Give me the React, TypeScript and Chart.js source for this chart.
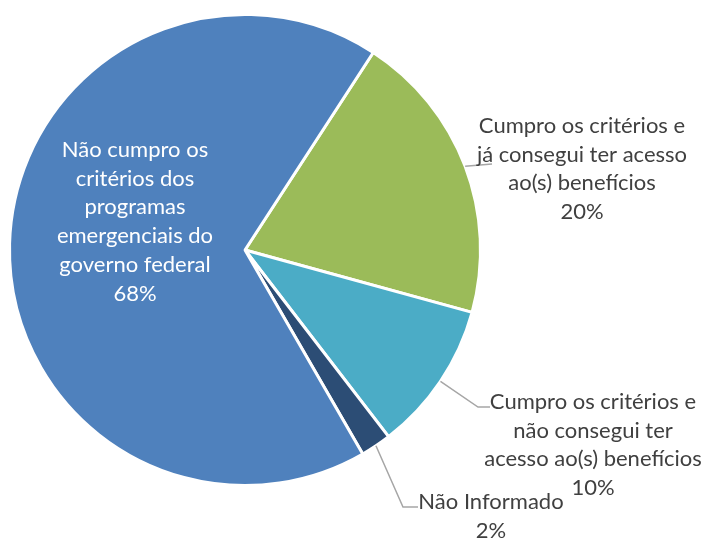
import React, { useEffect, useRef } from "react";
import { Chart, registerables } from "chart.js";

Chart.register(...registerables);

// ---- data ----
const categories: string[][] = [
  ["Cumpro os critérios e", "já consegui ter acesso", "ao(s) benefícios"],
  ["Cumpro os critérios e", "não consegui ter", "acesso ao(s) benefícios"],
  ["Não Informado"],
  ["Não cumpro os", "critérios dos", "programas", "emergenciais do", "governo federal"],
];
const values: number[] = [20.1, 10.3, 2.1, 67.5];
const colors: string[] = ["#9BBB59", "#4BACC6", "#2C4D75", "#4F81BD"];

// ---- label layout (offsets from the pie centre) ----
type Lay = { dx: number; dy: number; color: string; leader: number[][] | null };
const LAYOUT: Lay[] = [
  { dx: 337, dy: -124, color: "#404040", leader: [[247, -86]] },
  { dx: 348, dy: 152, color: "#404040", leader: [[233, 157], [245, 157]] },
  { dx: 246, dy: 252, color: "#404040", leader: [[158, 257], [173, 257]] },
  { dx: -110, dy: -100, color: "#FFFFFF", leader: null },
];
const LINE_H = 28.7;
const FONT = "22px Lato";

const labelPlugin = {
  id: "sliceLabels",
  afterDatasetsDraw(chart: any) {
    const ctx = chart.ctx as CanvasRenderingContext2D;
    const meta = chart.getDatasetMeta(0);
    const data = chart.data.datasets[0].data as number[];
    const total = data.reduce((a, b) => a + b, 0);
    meta.data.forEach((arc: any, i: number) => {
      const { x, y, startAngle, endAngle, outerRadius } = arc.getProps(
        ["x", "y", "startAngle", "endAngle", "outerRadius"],
        true
      );
      const mid = (startAngle + endAngle) / 2;
      const ax = x + Math.cos(mid) * outerRadius;
      const ay = y + Math.sin(mid) * outerRadius;
      const L = LAYOUT[i];
      ctx.save();
      if (L.leader) {
        ctx.strokeStyle = "#A6A6A6";
        ctx.lineWidth = 1.5;
        ctx.beginPath();
        ctx.moveTo(ax, ay);
        L.leader.forEach((p) => ctx.lineTo(x + p[0], y + p[1]));
        ctx.stroke();
      }
      const lines = [...chart.data.labels[i], Math.round((data[i] / total) * 100) + "%"];
      ctx.font = FONT;
      ctx.fillStyle = L.color;
      ctx.textAlign = "center";
      ctx.textBaseline = "middle";
      lines.forEach((t: string, k: number) => {
        ctx.fillText(t, x + L.dx, y + L.dy + k * LINE_H);
      });
      ctx.restore();
    });
  },
};

export default function App() {
  const ref = useRef<HTMLCanvasElement>(null);
  useEffect(() => {
    const chart = new Chart(ref.current!, {
      type: "pie",
      data: {
        labels: categories as any,
        datasets: [
          {
            data: values,
            backgroundColor: colors,
            borderColor: "#FFFFFF",
            borderWidth: 3,
          },
        ],
      },
      options: {
        responsive: false,
        animation: false,
        rotation: 33,
        layout: { padding: { left: 8, top: 13, right: 227, bottom: 52 } },
        plugins: {
          legend: { display: false },
          tooltip: { enabled: false },
        },
      },
      plugins: [labelPlugin],
    });
    return () => chart.destroy();
  }, []);
  return (
    <div style={{ position: "fixed", left: 0, top: 0, width: 709, height: 539, background: "#fff" }}>
      <canvas ref={ref} width={709} height={539} />
    </div>
  );
}
